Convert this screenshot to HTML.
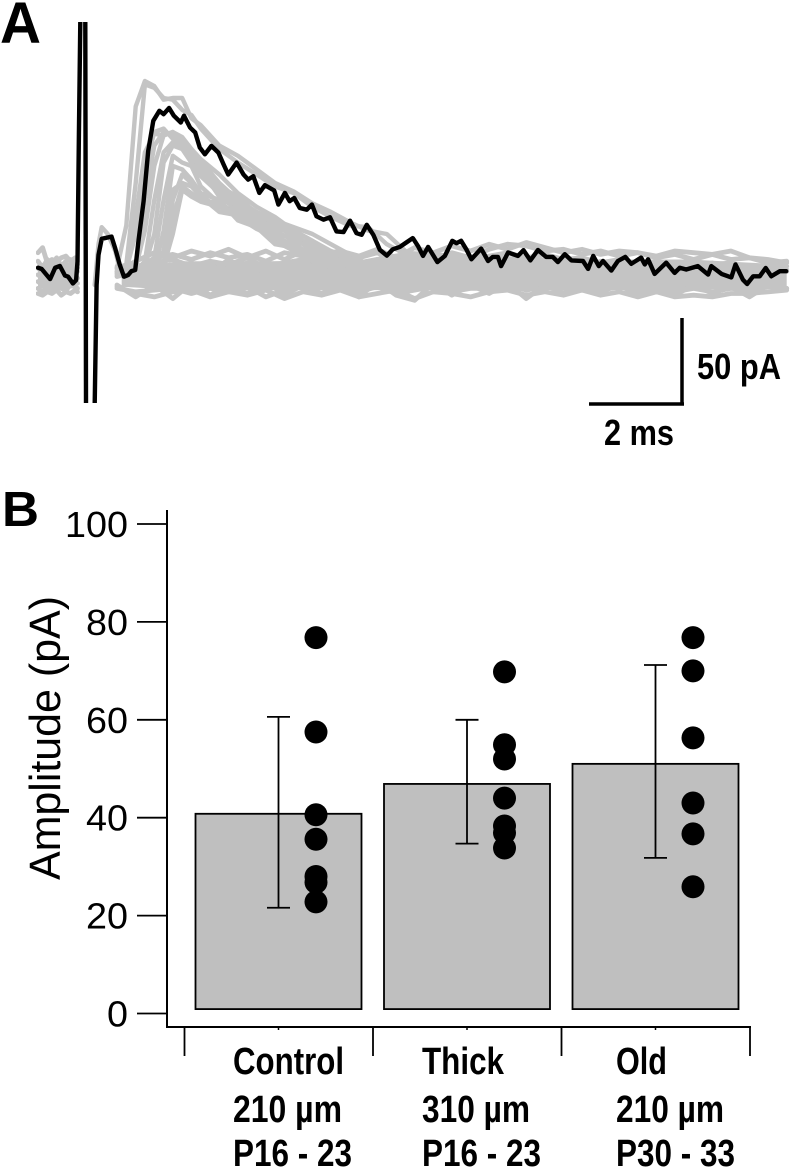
<!DOCTYPE html>
<html lang="en">
<head>
<meta charset="utf-8">
<title>Amplitude traces and bar chart</title>
<style>
html,body{margin:0;padding:0;background:#fff;}
svg{display:block;}
text{font-family:"Liberation Sans",sans-serif;fill:#000;}
</style>
</head>
<body>
<svg id="fig" xmlns="http://www.w3.org/2000/svg" width="793" height="1168" viewBox="0 0 793 1168">
  <defs>
    <clipPath id="trace-clip"><rect x="36" y="22" width="757" height="381"/></clipPath>
  </defs>
  <rect x="0" y="0" width="793" height="1168" fill="#fff"/>
  <text x="0" y="43" font-size="58" font-weight="700" textLength="41" lengthAdjust="spacingAndGlyphs">A</text>
  <text x="2" y="526" font-size="49" font-weight="700" textLength="37" lengthAdjust="spacingAndGlyphs">B</text>
  <g id="panel-a" clip-path="url(#trace-clip)"></g>
  <g id="scale-bar">
    <line x1="589" y1="404" x2="684" y2="404" stroke="#000" stroke-width="3.5"/>
    <line x1="682" y1="318" x2="682" y2="405" stroke="#000" stroke-width="3.5"/>
    <text x="697" y="379" font-size="36" font-weight="700" textLength="84" lengthAdjust="spacingAndGlyphs">50 pA</text>
    <text x="604" y="445" font-size="36" font-weight="700" textLength="70" lengthAdjust="spacingAndGlyphs">2 ms</text>
  </g>
  <g id="panel-b"></g>
  <text transform="translate(60,738) rotate(-90)" text-anchor="middle" font-size="44" textLength="284" lengthAdjust="spacingAndGlyphs">Amplitude (pA)</text>
</svg>
<script>
// Panel B data
const yTicks = [0, 20, 40, 60, 80, 100];
const categoryLines = [
  ["Control", "210 µm", "P16 - 23"],
  ["Thick", "310 µm", "P16 - 23"],
  ["Old", "210 µm", "P30 - 33"]
];
const barValues = [40.8, 46.9, 51];
const errorUpper = [60.6, 60, 71.2];
const errorLower = [21.6, 34.7, 31.8];
const dotsControl = [76.8, 57.5, 40.6, 35.6, 28, 26.8, 22.8];
const dotsThick = [69.8, 54.9, 52, 44, 38.3, 36.9, 33.8];
const dotsOld = [76.8, 70, 56.3, 43, 36.7, 25.9];

// Panel A data: time in ms, current in pA
const blackTimes = [0,0.08,0.26,0.37,0.47,0.58,0.65,0.75,0.82,0.85,0.88,0.91,0.925,1.01,1.018,1.032,1.047,1.204,1.219,1.26,1.30,1.37,1.58,1.66,1.76,1.85,1.94,2.01,2.09,2.16,2.27,2.37,2.48,2.61,2.70,2.82,2.92,3.07,3.14,3.27,3.38,3.48,3.59,3.73,3.88,3.99,4.09,4.27,4.42,4.52,4.63,4.76,4.88,5.08,5.17,5.31,5.41,5.51,5.63,5.78,5.89,5.99,6.14,6.28,6.42,6.57,6.71,6.85,6.96,7.07,7.21,7.35,7.50,7.63,7.78,7.92,8.06,8.17,8.28,8.39,8.59,8.75,8.91,9.00,9.10,9.21,9.32,9.53,9.68,9.78,9.89,9.96,10.11,10.32,10.44,10.59,10.75,10.93,11.07,11.18,11.33,11.47,11.72,11.83,11.94,12.06,12.15,12.33,12.47,12.63,12.76,12.97,13.05,13.12,13.26,13.51,13.69,13.80,13.94,14.19,14.41,14.48,14.70,14.91,15.00,15.16,15.25,15.38,15.52,15.65,15.77,15.95,16.09];
const blackValues = [0.2,-0.6,-6.5,0.2,1.2,-4.5,-5.1,-9.1,-7.1,3.8,78.7,145,170,170,145,-80,-105,-105,-80,-10,7.7,17.2,18.5,11.6,1.8,-5.1,-4.1,-1.8,-1.2,15.6,39.3,68.8,86.6,92.5,90.5,94.1,89.6,85.6,89.6,82.6,79.7,70.8,66.9,71.8,67.9,61,55,62,55,52,54,44.2,48.7,45.6,37.3,44.2,39.3,41.2,35.3,34.3,37.3,30.4,28.4,29.8,21.5,21.1,27.8,20.5,19.5,25.4,19.5,10.7,7.3,11,12.4,15,17.6,13,7.1,12.4,3.5,7.1,16,14.6,16,11,5.1,11.4,4.1,6.5,6.5,1.1,9.1,7.1,10.5,4.5,10.6,6.5,6.5,3.5,8.1,4.5,4.1,-0.5,7.1,1.1,4.1,-1.5,4.1,6.5,2.5,6.1,2.1,5.1,-3.5,3.1,-2.9,0.1,-0.9,1.1,-3.9,1.1,-3.5,-5.5,2.1,-6.9,-9.4,-4.9,-4.9,0,-4.9,-1.9,-1.9];

const bumpTimes = [1.22,1.3,1.37,1.5,1.66,1.78,1.9];
const bumpValues = [-10,14,24,20,10,-3,-8];

// Solid core of the overlapping baseline traces
const coreTimes = [1.8,3,5,7,8,10,12,14,16.1];
const coreUpper = [-2,4,4,5,10,7,5,5,2];
const coreLower = [-11,-13,-13,-13,-13,-13,-13,-13,-11];
const preCoreTimes = [0,0.85];
const preCoreUpper = [3,3];
const preCoreLower = [-12,-12];

const responseTimes = [1.7,1.9,2.1,2.3,2.5,2.7,2.9,3.1,3.3,3.5,3.9,4.3,4.7,5.1,5.5,5.9,6.3,6.7,7.1,7.5,7.9];
const response1 = [0,25,95,110,107,99,100,100,88,84,72,66,58,50,45,38,33,27,22,20,10];
const response2 = [-2,2,50,108,106,100,99,93,90,82,70,62,55,48,44,36,30,25,24,14,8];
const response3 = [-3,0,30,68,79,78,80,77,70,63,50,40,33,28,24,20,14,8,2,-2,-4];
const response4 = [1,-1,20,58,80,82,76,72,66,62,46,38,30,26,22,16,8,5,0,3,-3];
const response5 = [-2,0,-1,40,72,80,78,74,68,60,48,42,32,24,20,12,10,2,-3,0,-5];
const response6 = [0,-3,0,22,60,78,80,76,70,64,55,44,36,30,22,16,10,6,0,-4,-2];
const response7 = [-1,1,-2,4,40,68,74,72,64,58,42,34,28,26,18,14,6,4,-2,2,-4];
const response8 = [1,-2,0,1,20,62,72,70,62,54,44,36,26,20,18,10,8,0,3,-2,-5];
const response9 = [-2,0,2,-1,6,40,66,62,60,48,38,32,30,22,16,12,4,2,-3,-5,0];
const response10 = [0,2,-2,1,-2,22,60,58,52,44,40,28,24,18,14,8,6,-2,1,-4,-3];
const response11 = [-3,0,1,-2,0,10,46,50,48,42,36,30,26,16,10,4,2,0,-2,1,-4];
const response12 = [0,-2,0,2,-1,3,30,48,44,40,38,30,23,18,12,8,3,-1,-3,0,-2];
const response13 = [-1,1,-2,0,2,-1,40,55,50,42,33,31,24,14,12,6,0,2,-3,-4,-1];
const response14 = [0,-1,2,-3,0,1,20,46,42,39,36,30,27,20,12,7,4,1,-2,1,-3];

const preTimes = [0,0.1,0.2,0.3,0.4,0.5,0.6,0.7,0.8,0.85];
const preA = [9,12,3,5,4,6,7,4,6,2];
const preB = [4,0,5,2,6,1,4,5,2,0];
const preC = [0,-3,1,-2,2,-1,0,-3,0,-2];
const preD = [-4,-6,-3,-6,-2,-5,-6,-3,-4,-6];
const preE = [-8,-10,-7,-9,-6,-10,-8,-7,-8,-9];
const preF = [-12,-14,-11,-13,-10,-12,-13,-10,-11,-12];
const preG = [-15,-16,-14,-15,-13,-16,-14,-15,-13,-14];

const failureTimes = [1.7,2.1,2.5,2.9,3.3,3.7,4.1,4.5,4.9,5.3,5.7,6.1,6.5,6.9,7.3,7.7,8.1,8.5,8.9,9.3,9.7,10.1,10.5,10.9,11.3,11.7,12.1,12.5,12.9,13.3,13.7,14.1,14.5,14.9,15.3,15.7,16.1];
const failure1 = [0,-2,6,8,5,9,6,8,4,9,7,5,8,6,9,3,7,5,9,6,11,14,13,10,11,8,10,7,9,6,8,5,8,5,6,3,4];
const failure2 = [-3,1,3,5,1,4,2,6,0,3,5,1,4,2,5,0,3,6,2,4,7,9,6,8,5,6,3,5,2,4,1,4,2,3,0,2,1];
const failure3 = [-5,-2,0,2,-2,1,-1,3,-3,0,2,-2,1,-1,2,-3,0,3,-1,2,3,5,2,4,2,3,0,2,-1,1,-3,1,-1,0,-2,0,-2];
const failure9 = [-12,-14,-13,-12,-15,-12,-14,-11,-17,-13,-11,-15,-12,-14,-11,-15,-13,-11,-14,-12,-12,-10,-13,-11,-12,-11,-13,-11,-13,-13,-14,-12,-14,-12,-13,-11,-12];
const failure10 = [-11,-15,-17,-14,-13,-17,-14,-16,-13,-18,-14,-16,-13,-17,-15,-13,-18,-14,-15,-17,-14,-13,-16,-14,-16,-13,-16,-14,-17,-14,-17,-16,-17,-15,-15,-14,-13];
const failure11 = [-2,4,9,6,10,7,11,6,10,5,10,8,10,7,11,6,12,9,13,10,14,11,15,12,9,11,8,10,9,7,10,9,8,10,6,5,3];
const failure12 = [-4,-1,4,-1,3,-3,5,-2,4,-4,3,-1,5,-3,3,-2,6,0,5,-1,4,1,6,0,3,-2,4,-1,3,-3,2,-2,3,-3,1,-3,-1];
const failure15 = [-10,-17,-10,-18,-9,-16,-10,-15,-8,-16,-10,-15,-9,-17,-8,-16,-19,-9,-16,-10,-15,-9,-18,-10,-15,-9,-14,-10,-16,-11,-16,-10,-15,-11,-17,-10,-12];

const NS = 'http://www.w3.org/2000/svg';
const panelA = document.getElementById('panel-a');
const panelB = document.getElementById('panel-b');

// Axis functions
const traceX = t => 38 + t * 46.5;
const traceY = v => 268 - v * 1.7;
const barY = v => 1013.5 - v * 4.895;
const catCenter = i => 278.5 + i * 188.5;

function make(parent, tag, attrs) {
  const el = document.createElementNS(NS, tag);
  for (const k in attrs) el.setAttribute(k, attrs[k]);
  parent.appendChild(el);
  return el;
}
function tracePath(times, values, color, width) {
  const d = times.map((t, i) => (i ? 'L' : 'M') + traceX(t).toFixed(1) + ' ' + traceY(values[i]).toFixed(1)).join('');
  return make(panelA, 'path', {d: d, fill: 'none', stroke: color, 'stroke-width': width, 'stroke-linejoin': 'round', 'stroke-linecap': 'round'});
}
function bandPath(times, upper, lower) {
  const top = times.map((t, i) => traceX(t).toFixed(1) + ',' + traceY(upper[i]).toFixed(1));
  const bottom = times.map((t, i) => traceX(t).toFixed(1) + ',' + traceY(lower[i]).toFixed(1)).reverse();
  return make(panelA, 'polygon', {points: top.concat(bottom).join(' '), fill: GREY});
}

const GREY = '#c4c4c4';
const core = bandPath(coreTimes, coreUpper, coreLower);


const preCore = bandPath(preCoreTimes, preCoreUpper, preCoreLower);



[preA, preB, preC, preD, preE, preF, preG].forEach(vals => {
  const el = tracePath(preTimes, vals, GREY, 4.8);
  
  
});
[failure1, failure2, failure3, failure9, failure10, failure11, failure12, failure15].forEach(vals => {
  const el = tracePath(failureTimes, vals, GREY, 4.8);
  
  
});
[response1, response2, response3, response4, response5, response6, response7, response8, response9, response10, response11, response12, response13, response14].forEach(vals => {
  const el = tracePath(responseTimes, vals, GREY, 4.4);
  
  
});
const bump = tracePath(bumpTimes, bumpValues, GREY, 4.4);


const black = tracePath(blackTimes, blackValues, '#000', 4.4);



// Panel B axes
const yAxis = make(panelB, 'line', {x1: 167, y1: 510, x2: 167, y2: 1028, stroke: '#000', 'stroke-width': 2});


const xAxis = make(panelB, 'line', {x1: 166, y1: 1027, x2: 751, y2: 1027, stroke: '#000', 'stroke-width': 2});



yTicks.forEach(v => {
  const tick = make(panelB, 'line', {x1: 137, y1: barY(v), x2: 167, y2: barY(v), stroke: '#000', 'stroke-width': 1.8});
  
  
  const label = make(panelB, 'text', {x: 128, y: barY(v) + 13, 'text-anchor': 'end', 'font-size': 36, textLength: String(v).length * 21, lengthAdjust: 'spacingAndGlyphs'});
  label.textContent = v;
  
  
});

[0, 1, 2, 3].forEach(i => {
  const x = catCenter(i) - 94;
  const tick = make(panelB, 'line', {x1: x, y1: 1027, x2: x, y2: 1056, stroke: '#000', 'stroke-width': 1.8});
  
  
});

const dotGroups = [dotsControl, dotsThick, dotsOld];
const labelWidths = [[111, 109, 119], [82, 108, 119], [51, 108, 119]];
const labelLeft = [233, 422, 616];
const labelBaselines = [1074, 1122, 1166];

barValues.forEach((v, i) => {
  const c = catCenter(i);
  const bar = make(panelB, 'rect', {x: c - 83, y: barY(v), width: 166, height: barY(0.9) - barY(v), fill: '#bfbfbf', stroke: '#000', 'stroke-width': 1.8});
  
  

  const stem = make(panelB, 'line', {x1: c, y1: barY(errorUpper[i]), x2: c, y2: barY(errorLower[i]), stroke: '#000', 'stroke-width': 1.8});
  
  
  [errorUpper[i], errorLower[i]].forEach(e => {
    const cap = make(panelB, 'line', {x1: c - 11.5, y1: barY(e), x2: c + 11.5, y2: barY(e), stroke: '#000', 'stroke-width': 1.8});
    
    
  });

  const mini = make(panelB, 'line', {x1: c, y1: 1027, x2: c, y2: 1030, stroke: '#000', 'stroke-width': 1.5});
  
  

  dotGroups[i].forEach(d => {
    const dot = make(panelB, 'circle', {cx: c + 37.5, cy: barY(d), r: 11.5, fill: '#000'});
    
    
  });

  categoryLines[i].forEach((line, j) => {
    const t = make(panelB, 'text', {x: labelLeft[i], y: labelBaselines[j], 'font-size': 38, 'font-weight': 700, textLength: labelWidths[i][j], lengthAdjust: 'spacingAndGlyphs'});
    t.textContent = line;
    
    
  });
});
</script>
</body>
</html>
